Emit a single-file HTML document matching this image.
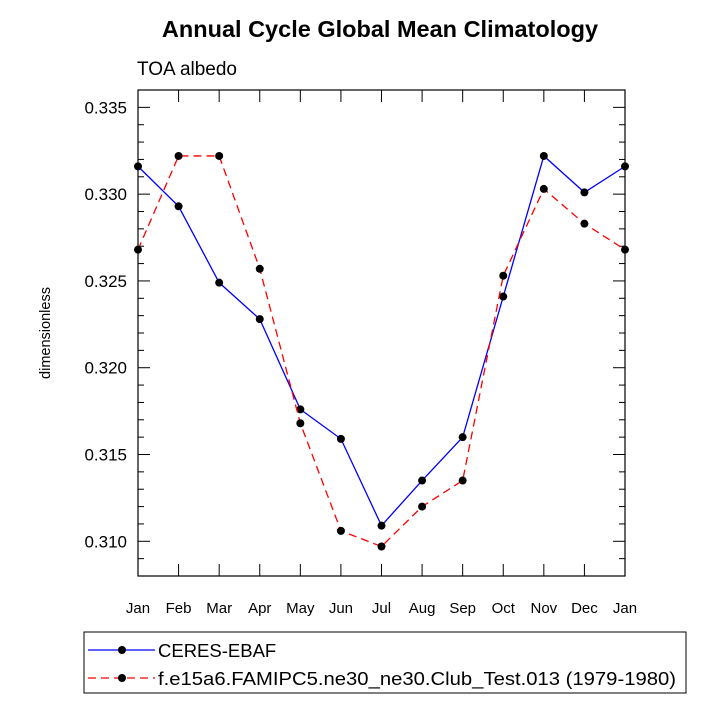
<!DOCTYPE html>
<html><head><meta charset="utf-8"><style>
body{margin:0;background:#fff;}
svg{display:block;font-family:"Liberation Sans",sans-serif;}
</style></head><body>
<svg id="c" width="717" height="717">
<text x="380" y="37" text-anchor="middle" font-size="23.5" font-weight="bold">Annual Cycle Global Mean Climatology</text>
<text x="137" y="75" font-size="19">TOA albedo</text>
<text transform="translate(50,333) rotate(-90)" text-anchor="middle" font-size="14.5">dimensionless</text>
<rect x="138" y="90" width="487" height="486" fill="none" stroke="#000" stroke-width="1.2"/>
<g id="ax"></g><g id="series"></g>
<rect x="84" y="632" width="602" height="61" fill="none" stroke="#000" stroke-width="1"/>
<g>
<line x1="88" y1="650" x2="155" y2="650" stroke="#00f" stroke-width="1.2"/>
<circle cx="122" cy="650" r="4" fill="#000"/>
<text x="158" y="657" font-size="18.5">CERES-EBAF</text></g>
<g>
<line x1="88" y1="678" x2="155" y2="678" stroke="#f00" stroke-width="1.2" stroke-dasharray="8,5"/>
<circle cx="122" cy="678" r="4" fill="#000"/>
<text x="158" y="685" font-size="18.5" textLength="518" lengthAdjust="spacingAndGlyphs">f.e15a6.FAMIPC5.ne30_ne30.Club_Test.013 (1979-1980)</text></g>
</svg>
<script>
const months=["Jan","Feb","Mar","Apr","May","Jun","Jul","Aug","Sep","Oct","Nov","Dec","Jan"];
const ceres=[0.3316,0.3293,0.3249,0.3228,0.3176,0.3159,0.3109,0.3135,0.3160,0.3241,0.3322,0.3301,0.3316];
const model=[0.3268,0.3322,0.3322,0.3257,0.3168,0.3106,0.3097,0.3120,0.3135,0.3253,0.3303,0.3283,0.3268];
const yTicks=["0.310","0.315","0.320","0.325","0.330","0.335"];
const X0=138,X1=625,Y0=576,Y1=90,ymin=0.308,ymax=0.336;
const xs=i=>X0+(X1-X0)*i/(months.length-1);
const ys=v=>Y0-(v-ymin)/(ymax-ymin)*(Y0-Y1);
const NS="http://www.w3.org/2000/svg";
function mk(t,a,p){const e=document.createElementNS(NS,t);for(const k in a)e.setAttribute(k,a[k]);p.appendChild(e);return e;}
const ax=document.getElementById('ax');
months.forEach((m,i)=>{const x=xs(i);
mk('line',{x1:x,y1:Y0,x2:x,y2:Y0-12,stroke:'#000'},ax);
mk('line',{x1:x,y1:Y1,x2:x,y2:Y1+12,stroke:'#000'},ax);
const t=mk('text',{x:x,y:Y0+37,'text-anchor':'middle','font-size':15},ax);t.textContent=m;

});
for(let k=0;k<=28;k++){const v=ymin+k*0.001,y=ys(v),maj=(k%5==2);const L=maj?12:6;
mk('line',{x1:X0,y1:y,x2:X0+L,y2:y,stroke:'#000'},ax);
mk('line',{x1:X1,y1:y,x2:X1-L,y2:y,stroke:'#000'},ax);}
yTicks.forEach(s=>{const t=mk('text',{x:X0-11,y:ys(parseFloat(s))+6,'text-anchor':'end','font-size':17},ax);t.textContent=s;

});
const sg=document.getElementById('series');
function draw(d,col,dash,name){const g=mk('g',{},sg);


mk('polyline',{points:d.map((v,i)=>xs(i)+','+ys(v)).join(' '),fill:'none',stroke:col,'stroke-width':1.3,'stroke-dasharray':dash},g);
d.forEach((v,i)=>{const c=mk('circle',{cx:xs(i),cy:ys(v),r:4,fill:'#000'},g);

});}
draw(ceres,'#00f','none','ceres-series');
draw(model,'#f00','8,5','model-series');
</script>
</body></html>
